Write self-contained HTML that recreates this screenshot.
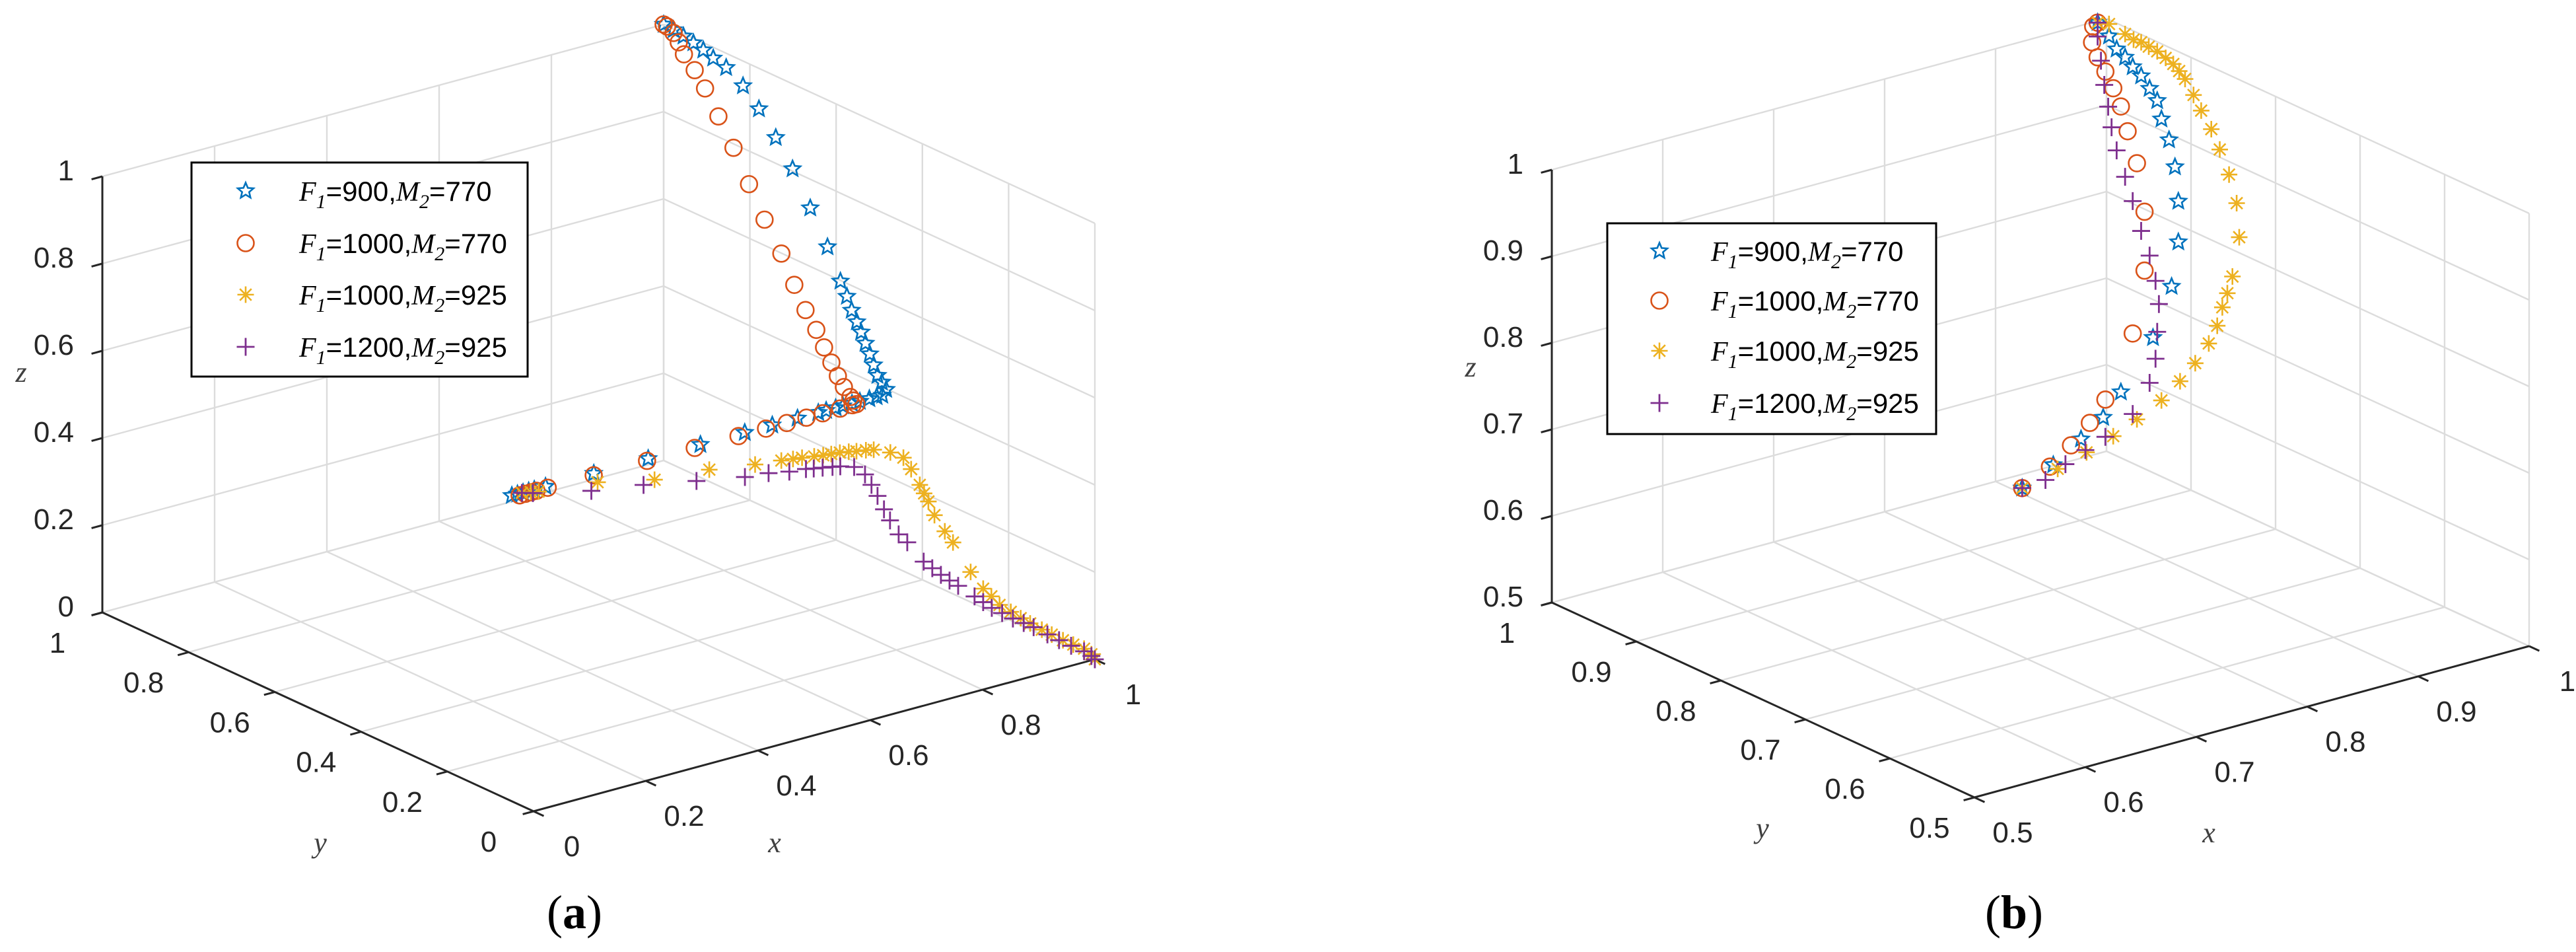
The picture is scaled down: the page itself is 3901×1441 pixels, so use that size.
<!DOCTYPE html>
<html><head><meta charset="utf-8"><title>3D evolution paths</title>
<style>html,body{margin:0;padding:0;background:#fff}svg{display:block}</style></head>
<body>
<svg id="fig" xmlns="http://www.w3.org/2000/svg" width="3901" height="1441" viewBox="0 0 3901 1441">
<rect x="0" y="0" width="3901" height="1441" fill="#fff"/>
<g id="panelA"></g>
<g id="panelB"></g>
<text x="870" y="1405" text-anchor="middle" font-family="Liberation Serif, serif" font-size="72" fill="#000">(<tspan font-weight="bold">a</tspan>)</text>
<text x="3050" y="1405" text-anchor="middle" font-family="Liberation Serif, serif" font-size="72" fill="#000">(<tspan font-weight="bold">b</tspan>)</text>
</svg>
<script>
// ---------- data (x, y, z) ----------
const seriesNames = ["F1=900,M2=770","F1=1000,M2=770","F1=1000,M2=925","F1=1200,M2=925"];
const legendF1 = ["900","1000","1000","1200"];
const legendM2 = ["770","770","925","925"];
const ticksA = [0,0.2,0.4,0.6,0.8,1];
const tickLabelsA = ["0","0.2","0.4","0.6","0.8","1"];
const ticksB = [0.5,0.6,0.7,0.8,0.9,1];
const tickLabelsB = ["0.5","0.6","0.7","0.8","0.9","1"];

const aBlue = [[1,1,1],[1,.977,.998],[1,.954,.994],[1,.931,.989],[1,.908,.983],[1,.885,.975],[1,.855,.967],[1,.816,.943],[1,.779,.907],[1,.740,.859],[1,.701,.805],[1,.660,.734],[1,.620,.663],[1,.590,.598],[1,.575,.57],[1,.564,.543],[1,.552,.522],[1,.542,.503],[1,.532,.482],[1,.522,.462],[1,.513,.441],[1,.504,.421],[1,.494,.41],[1,.484,.398],
 [.99,.48,.39],[.98,.48,.39],[.967,.48,.39],[.95,.48,.39],[.936,.48,.39],[.92,.48,.39],[.907,.48,.39],[.89,.48,.39],[.876,.48,.39],[.839,.48,.39],[.794,.48,.39],[.745,.48,.39],[.666,.48,.39],[.573,.48,.39],[.476,.48,.39],[.39,.48,.39],[.37,.48,.39],[.36,.48,.39],[.35,.48,.39],[.34,.48,.39],[.33,.48,.39]];
const aRed = [[1,1,1],[1,.992,.999],[1,.977,.991],[1,.965,.975],[1,.953,.953],[1,.928,.928],[1,.904,.897],[1,.873,.847],[1,.838,.791],[1,.802,.724],[1,.766,.659],[1,.727,.599],[1,.697,.541],[1,.671,.495],[1,.646,.461],[1,.628,.429],[1,.611,.402],[1,.596,.378],[1,.582,.359],[1,.567,.343],[1,.56,.338],[1,.553,.333],
 [.993,.553,.333],[.971,.553,.333],[.94,.553,.333],[.911,.553,.333],[.876,.553,.333],[.839,.553,.333],[.79,.553,.333],[.712,.553,.333],[.627,.553,.333],[.532,.553,.333],[.45,.553,.333],[.43,.553,.333],[.42,.553,.333],[.41,.553,.333],[.40,.553,.333]];
const aYellow = [[.348,.48,.39],[.36,.475,.39],[.37,.47,.39],[.459,.449,.39],[.529,.408,.39],[.615,.393,.39],[.679,.370,.39],[.718,.360,.39],[.735,.355,.39],[.748,.351,.39],[.765,.345,.39],[.778,.341,.39],[.79,.338,.39],[.803,.335,.39],[.815,.33,.39],[.825,.325,.39],[.838,.32,.39],[.848,.315,.39],[.860,.292,.39],
 [1,.444,.260],[1,.426,.242],[1,.406,.215],[1,.396,.200],[1,.386,.186],[1,.372,.161],[1,.348,.135],[1,.329,.118],[1,.288,.069],[1,.259,.044],[1,.240,.035],[1,.221,.024],[1,.195,.020],[1,.172,.016],[1,.150,.014],[1,.123,.012],[1,.100,.011],[1,.074,.010],[1,.050,.011],[1,.025,.013],[1,.008,.008],[1,0,0]];
const aPurple = [[.348,.48,.39],[.36,.47,.39],[.431,.427,.39],[.504,.401,.39],[.573,.368,.39],[.637,.339,.39],[.673,.331,.39],[.700,.318,.39],[.725,.312,.39],[.735,.307,.39],[.747,.302,.39],[.76,.296,.39],[.770,.291,.39],[.784,.277,.39],
 [1,.533,.181],[1,.518,.164],[1,.504,.145],[1,.489,.121],[1,.475,.102],[1,.455,.079],[1,.435,.070],[1,.397,.043],[1,.377,.037],[1,.357,.031],[1,.337,.027],[1,.317,.024],[1,.279,.017],[1,.259,.013],[1,.239,.009],[1,.215,.008],[1,.190,.007],[1,.165,.008],[1,.142,.009],[1,.110,.007],[1,.083,.006],[1,.055,.006],[1,.025,.007],[1,.008,.004],[1,0,0]];

const bBlue = [[.992,1,.998],[1,.997,.981],[1,.988,.970],[1,.978,.965],[1,.969,.958],[1,.959,.952],[1,.949,.942],[1,.940,.932],[1,.935,.913],[1,.926,.893],[1,.919,.865],[1,.915,.827],[1,.915,.780],[1,.923,.725],[1,.945,.656],[1,.983,.576],[.997,1,.540],[.977,1,.522],[.952,1,.501],[.924,1,.484]];
const bRed = [[.992,1,.998],[.988,1,.995],[.987,1,.977],[.992,1,.958],[.999,1,.939],[1,.992,.923],[1,.983,.906],[1,.975,.881],[1,.964,.849],[1,.955,.797],[1,.955,.729],[1,.969,.650],[.999,1,.560],[.985,1,.538],[.968,1,.518],[.949,1,.500],[.924,1,.484]];
const bYellow = [[.992,1,.998],[1,.997,.995],[1,.978,.992],[1,.968,.990],[1,.959,.991],[1,.95,.99],[1,.940,.989],[1,.93,.986],[1,.921,.983],[1,.914,.978],[1,.907,.972],[1,.897,.958],[1,.888,.944],[1,.876,.928],[1,.866,.909],[1,.855,.885],[1,.846,.856],[1,.843,.818],[1,.851,.769],[1,.857,.747],[1,.863,.728],[1,.869,.704],[1,.879,.679],[1,.895,.649],[1,.913,.620],[1,.935,.588],[1,.964,.553],[1,.992,.521],[.982,1,.505],[.956,1,.495],[.924,1,.484]];
const bPurple = [[.992,1,.998],[.992,1,.982],[.995,1,.953],[.998,1,.924],[1,.998,.899],[1,.994,.877],[1,.988,.853],[1,.978,.827],[1,.969,.803],[1,.959,.773],[1,.949,.749],[1,.942,.723],[1,.938,.698],[1,.940,.665],[1,.942,.633],[1,.949,.602],[1,.969,.557],[.999,1,.517],[.981,1,.508],[.963,1,.498],[.945,1,.486],[.924,1,.484]];

// ---------- rendering ----------
const NS = "http://www.w3.org/2000/svg";
const colors = ["#0072BD","#D95319","#EDB120","#7E2F8E"];
const kinds = ["star","circle","asterisk","plus"];
function el(tag, attrs, parent){ const e=document.createElementNS(NS,tag); for(const k in attrs) e.setAttribute(k,attrs[k]); parent.appendChild(e); return e; }

function makeAxes(cfg){
  const span=v=>cfg.max-cfg.min;
  return function(x,y,z){
    const u=(x-cfg.min)/(cfg.max-cfg.min), v=(y-cfg.min)/(cfg.max-cfg.min), w=(z-cfg.min)/(cfg.max-cfg.min);
    return [cfg.o[0]+u*cfg.ex[0]+v*cfg.ey[0]+w*cfg.ez[0], cfg.o[1]+u*cfg.ex[1]+v*cfg.ey[1]+w*cfg.ez[1]];
  };
}
function marker(g,kind,cx,cy,color,name){
  const r=12.5; let m;
  if(kind==="circle"){ m=el("circle",{cx:cx,cy:cy,r:r,fill:"none",stroke:color,"stroke-width":2.6},g); }
  else if(kind==="star"){ let d=""; for(let i=0;i<10;i++){const a=-Math.PI/2+i*Math.PI/5; const rr=i%2?r*0.45:r; d+=(i?"L":"M")+(cx+rr*Math.cos(a)).toFixed(1)+" "+(cy+rr*Math.sin(a)).toFixed(1);} m=el("path",{d:d+"Z",fill:"none",stroke:color,"stroke-width":2.6},g); }
  else if(kind==="asterisk"){ let d=""; for(let i=0;i<4;i++){const a=i*Math.PI/4; d+="M"+(cx-r*Math.cos(a)).toFixed(1)+" "+(cy-r*Math.sin(a)).toFixed(1)+"L"+(cx+r*Math.cos(a)).toFixed(1)+" "+(cy+r*Math.sin(a)).toFixed(1);} m=el("path",{d:d,stroke:color,"stroke-width":2.6},g); }
  else { m=el("path",{d:`M${cx-r-1} ${cy}L${cx+r+1} ${cy}M${cx} ${cy-r-1}L${cx} ${cy+r+1}`,stroke:color,"stroke-width":2.8},g); }
  
  
}

function drawPanel(root,cfg,ticks,labels,series,legend){
  const P=makeAxes(cfg), mn=cfg.min, mx=cfg.max;
  const grid=el("g",{stroke:"#dcdcdc","stroke-width":2.4,fill:"none"},root);
  
  
  const line=(a,b,g,attrs)=>{const l=el("line",Object.assign({x1:a[0],y1:a[1],x2:b[0],y2:b[1]},attrs||{}),g);return l;};
  ticks.forEach(t=>{
    line(P(t,mn,mn),P(t,mx,mn),grid); line(P(mn,t,mn),P(mx,t,mn),grid);
    line(P(t,mx,mn),P(t,mx,mx),grid); line(P(mn,mx,t),P(mx,mx,t),grid);
    line(P(mx,t,mn),P(mx,t,mx),grid); line(P(mx,mn,t),P(mx,mx,t),grid);
  });
  const ax=el("g",{stroke:"#262626","stroke-width":3,fill:"none"},root);
  
  
  line(P(mn,mn,mn),P(mx,mn,mn),ax); line(P(mn,mn,mn),P(mn,mx,mn),ax); line(P(mn,mx,mn),P(mn,mx,mx),ax);
  const nx=[-0.965,0.261], ny=[0.908,0.419], L=17;
  const lab=el("g",{"font-family":"Liberation Sans, sans-serif","font-size":44,fill:"#262626"},root);
  
  
  ticks.forEach((t,i)=>{
    let p=P(t,mn,mn); line(p,[p[0]+ny[0]*L,p[1]+ny[1]*L],ax);
    let tx=el("text",{x:p[0]+58,y:p[1]+68,"text-anchor":"middle"},lab); tx.textContent=labels[i];
    
    p=P(mn,t,mn); line(p,[p[0]+nx[0]*L,p[1]+nx[1]*L],ax);
    let ty=el("text",{x:p[0]-68,y:p[1]+61,"text-anchor":"middle"},lab); ty.textContent=labels[i];
    
    p=P(mn,mx,t); line(p,[p[0]+nx[0]*L,p[1]+nx[1]*L],ax);
    let tz=el("text",{x:p[0]-43,y:p[1]+6,"text-anchor":"end"},lab); tz.textContent=labels[i];
    
  });
  const tt=el("g",{"font-family":"Liberation Serif, serif","font-style":"italic","font-size":44,fill:"#404040"},root);
  [["x",cfg.xt],["y",cfg.yt],["z",cfg.zt]].forEach(([s,pos])=>{
    const t=el("text",{x:pos[0],y:pos[1],"text-anchor":"middle"},tt); t.textContent=s;
    
    
  });
  series.forEach((pts,si)=>{
    const g=el("g",{},root);
    
    
    pts.forEach(q=>{const p=P(q[0],q[1],q[2]); marker(g,kinds[si],p[0],p[1],colors[si],'point');});
  });
  // legend
  const lg=el("g",{},root);
  
  
  el("rect",{x:legend.x,y:legend.y,width:legend.w,height:legend.h,fill:"#fff",stroke:"#000","stroke-width":3},lg);
  legend.rows.forEach((ry,i)=>{
    const eg=el("g",{},lg);
    
    
    marker(eg,kinds[i],legend.mx,ry,colors[i],'legend-marker');
    const t=el("text",{x:legend.tx,y:ry+15,"font-family":"Liberation Sans, sans-serif","font-size":42,fill:"#000"},eg);
    t.innerHTML=`<tspan font-family="Liberation Serif, serif" font-style="italic">F</tspan><tspan font-family="Liberation Serif, serif" font-style="italic" font-size="30" dy="11">1</tspan><tspan dy="-11">=${legendF1[i]},</tspan><tspan font-family="Liberation Serif, serif" font-style="italic">M</tspan><tspan font-family="Liberation Serif, serif" font-style="italic" font-size="30" dy="11">2</tspan><tspan dy="-11">=${legendM2[i]}</tspan>`;
    
  });
}

drawPanel(document.getElementById("panelA"),
  {min:0,max:1,o:[808,1228],ex:[850,-230],ey:[-653,-301],ez:[0,-660],xt:[1173,1290],yt:[485,1290],zt:[32,578]},
  ticksA,tickLabelsA,[aBlue,aRed,aYellow,aPurple],
  {x:290,y:246,w:509,h:324,mx:372,tx:453,rows:[289,368,446,525]});
drawPanel(document.getElementById("panelB"),
  {min:0.5,max:1,o:[2990,1207],ex:[840,-229],ey:[-640,-295],ez:[0,-655],xt:[3345,1275],yt:[2669,1268],zt:[2227,570]},
  ticksB,tickLabelsB,[bBlue,bRed,bYellow,bPurple],
  {x:2434,y:338,w:498,h:319,mx:2513,tx:2591,rows:[380,455,531,610]});
</script>
</body></html>
